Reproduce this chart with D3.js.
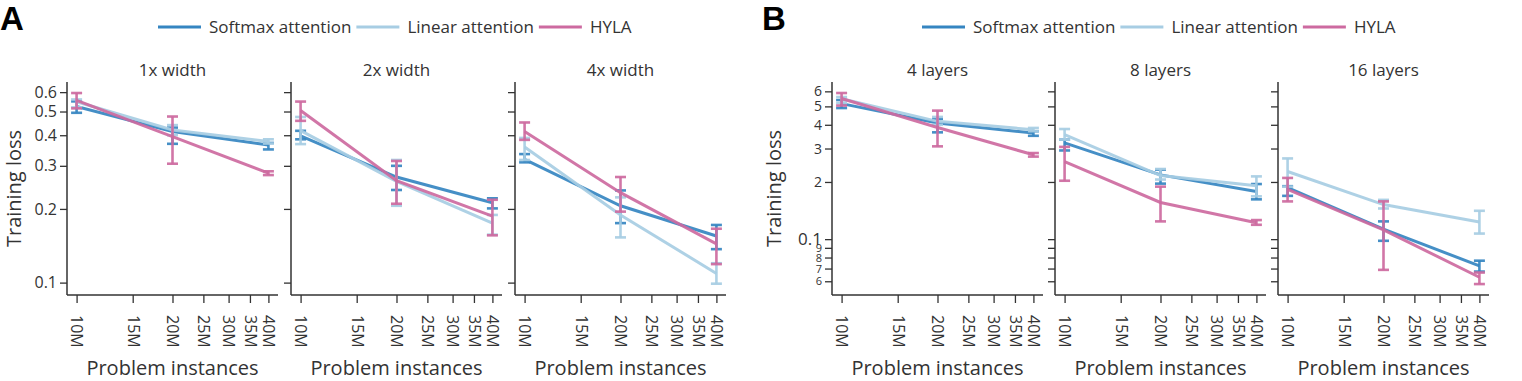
<!DOCTYPE html>
<html><head><meta charset="utf-8">
<script src="https://cdn.jsdelivr.net/npm/d3@7"></script>
<style>body{margin:0;background:#fff}svg{display:block}text{font-family:"Open Sans",sans-serif;fill:#333}</style>
</head><body><svg id="c" width="1522" height="381"></svg>
<script>
// ---------- data ----------
const xValues = [10e6, 20e6, 40e6];
const xTickValues = [10e6, 15e6, 20e6, 25e6, 30e6, 35e6, 40e6];
const xTickLabels = ["10M", "15M", "20M", "25M", "30M", "35M", "40M"];
const seriesNames = ["Softmax attention", "Linear attention", "HYLA"];
const seriesColors = ["#3585c1", "#a7cde3", "#cd6aa0"];

const panelATitles = ["1x width", "2x width", "4x width"];
const panelAYTicks = [0.1, 0.2, 0.3, 0.4, 0.5, 0.6];
const panelAYTickLabels = ["0.1", "0.2", "0.3", "0.4", "0.5", "0.6"];
// per subplot: [10M, 20M, 40M]
const A_softmax    = [[0.524, 0.414, 0.365], [0.398, 0.270, 0.212], [0.319, 0.206, 0.155]];
const A_softmax_lo = [[0.494, 0.369, 0.350], [0.385, 0.239, 0.201], [0.310, 0.175, 0.137]];
const A_softmax_hi = [[0.550, 0.430, 0.372], [0.417, 0.300, 0.221], [0.335, 0.238, 0.172]];
const A_linear     = [[0.548, 0.420, 0.377], [0.418, 0.259, 0.175], [0.358, 0.189, 0.109]];
const A_linear_lo  = [[0.520, 0.400, 0.370], [0.368, 0.206, 0.157], [0.317, 0.153, 0.099]];
const A_linear_hi  = [[0.560, 0.440, 0.385], [0.475, 0.317, 0.189], [0.390, 0.223, 0.120]];
const A_hyla       = [[0.555, 0.395, 0.280], [0.505, 0.261, 0.187], [0.414, 0.233, 0.144]];
const A_hyla_lo    = [[0.515, 0.306, 0.275], [0.458, 0.210, 0.156], [0.383, 0.195, 0.119]];
const A_hyla_hi    = [[0.595, 0.477, 0.285], [0.549, 0.314, 0.218], [0.451, 0.270, 0.166]];

const panelBTitles = ["4 layers", "8 layers", "16 layers"];
const panelBYTicks = [0.06, 0.07, 0.08, 0.09, 0.1, 0.2, 0.3, 0.4, 0.5, 0.6];
const panelBYTickLabels = ["6", "7", "8", "9", "0.1", "2", "3", "4", "5", "6"];
const B_softmax    = [[0.517, 0.409, 0.362], [0.321, 0.218, 0.178], [0.187, 0.113, 0.0723]];
const B_softmax_lo = [[0.490, 0.365, 0.350], [0.293, 0.196, 0.162], [0.169, 0.098, 0.0675]];
const B_softmax_hi = [[0.540, 0.430, 0.370], [0.334, 0.232, 0.195], [0.190, 0.124, 0.0770]];
const B_linear     = [[0.549, 0.417, 0.377], [0.355, 0.216, 0.191], [0.227, 0.152, 0.123]];
const B_linear_lo  = [[0.520, 0.400, 0.370], [0.334, 0.206, 0.168], [0.189, 0.145, 0.107]];
const B_linear_hi  = [[0.560, 0.440, 0.385], [0.380, 0.234, 0.214], [0.266, 0.161, 0.141]];
const B_hyla       = [[0.550, 0.387, 0.278], [0.256, 0.156, 0.122], [0.183, 0.112, 0.0630]];
const B_hyla_lo    = [[0.505, 0.308, 0.272], [0.203, 0.124, 0.119], [0.158, 0.0689, 0.0580]];
const B_hyla_hi    = [[0.588, 0.475, 0.284], [0.306, 0.189, 0.126], [0.210, 0.158, 0.0667]];

// ---------- layout ----------
const svg = d3.select("#c");
const axTop = 82, axBottom = 295, axW = 211;
const ink = "#333";

function drawPanel(opt) {
  const g = svg.append("g");
  // panel letter
  g.append("text").attr("x", opt.letterX).attr("y", 30).text(opt.letter)
    .style("font-family", "'Liberation Sans', Arial, sans-serif").style("font-weight", "bold")
    .style("font-size", "33px").style("fill", "#000");
  // legend
  let lx = opt.legendX;
  seriesNames.forEach((name, i) => {
    g.append("line").attr("x1", lx).attr("x2", lx + 43).attr("y1", 27).attr("y2", 27)
      .attr("stroke", seriesColors[i]).attr("stroke-width", 3);
    const t = g.append("text").attr("x", lx + 51).attr("y", 27).attr("dy", "0.35em")
      .style("font-size", "17px").text(name);
    lx += 51 + t.node().getComputedTextLength() + 5;
  });
  // y label
  g.append("text").attr("transform", `translate(${opt.ylabX},${(axTop + axBottom) / 2}) rotate(-90)`)
    .attr("text-anchor", "middle").style("font-size", "20px").text("Training loss");

  const y = d3.scaleLog().domain(opt.yDomain).range([axBottom, axTop]);
  const lx0 = Math.log10(10e6), lx1 = Math.log10(40e6), pad = (lx1 - lx0) * 0.05;
  opt.lefts.forEach((left, k) => {
    const x = d3.scaleLog().domain([Math.pow(10, lx0 - pad), Math.pow(10, lx1 + pad)]).range([left, left + axW]);
    const sg = g.append("g");
    // title
    sg.append("text").attr("x", left + axW / 2).attr("y", 70).attr("dy", "0.35em")
      .attr("text-anchor", "middle").style("font-size", "17px").text(opt.titles[k]);
    // y axis
    const ya = sg.append("g").attr("transform", `translate(${left},0)`)
      .call(d3.axisLeft(y).tickValues(opt.yTicks).tickSize(7).tickPadding(3)
        .tickFormat((d, i) => k === 0 ? opt.yTickLabels[i] : ""));
    ya.select(".domain").attr("d", `M0,${axTop}V${axBottom}`);
    ya.selectAll("line").attr("stroke", ink).attr("stroke-width", 1.3);
    ya.selectAll(".domain").attr("stroke", ink).attr("stroke-width", 1.5);
    ya.selectAll("text").style("font-size", (d, i) => opt.yTickSizes ? opt.yTickSizes[i] : "16px")
      .style("fill", ink).style("font-family", '"Open Sans",sans-serif');
    // x axis
    const xa = sg.append("g").attr("transform", `translate(0,${axBottom})`)
      .call(d3.axisBottom(x).tickValues(xTickValues).tickSize(8)
        .tickFormat((d, i) => xTickLabels[i]));
    xa.select(".domain").attr("d", `M${left},0H${left + axW}`).attr("stroke", ink).attr("stroke-width", 1.5);
    xa.selectAll("line").attr("stroke", ink).attr("stroke-width", 1.3);
    xa.selectAll("text").attr("transform", "rotate(90)").attr("x", 20).attr("y", 0).attr("dy", "0.35em")
      .attr("text-anchor", "start").style("font-size", "16px").style("fill", ink)
      .style("font-family", '"Open Sans",sans-serif');
    sg.append("text").attr("x", left + axW / 2).attr("y", 375).attr("text-anchor", "middle")
      .style("font-size", "20px").text("Problem instances");
    // series
    opt.series.forEach((s, si) => {
      const col = seriesColors[si];
      const pts = xValues.map((xv, j) => ({ x: xv, m: s.m[k][j], lo: s.lo[k][j], hi: s.hi[k][j] }));
      sg.append("path").datum(pts)
        .attr("d", d3.line().x(d => x(d.x)).y(d => y(d.m)))
        .attr("fill", "none").attr("stroke", col).attr("stroke-width", 3).attr("stroke-opacity", 0.92);
      const eb = sg.append("g").attr("stroke", col).attr("stroke-width", 2.6).attr("stroke-opacity", 0.92);
      pts.forEach(d => {
        eb.append("line").attr("x1", x(d.x)).attr("x2", x(d.x)).attr("y1", y(d.lo)).attr("y2", y(d.hi));
        eb.append("line").attr("x1", x(d.x) - 5.5).attr("x2", x(d.x) + 5.5).attr("y1", y(d.lo)).attr("y2", y(d.lo));
        eb.append("line").attr("x1", x(d.x) - 5.5).attr("x2", x(d.x) + 5.5).attr("y1", y(d.hi)).attr("y2", y(d.hi));
      });
    });
  });
}

drawPanel({
  letter: "A", letterX: 0, legendX: 158, ylabX: 21,
  lefts: [67, 291, 515], titles: panelATitles,
  yDomain: [0.089, 0.66], yTicks: panelAYTicks, yTickLabels: panelAYTickLabels,
  series: [
    { m: A_softmax, lo: A_softmax_lo, hi: A_softmax_hi },
    { m: A_linear, lo: A_linear_lo, hi: A_linear_hi },
    { m: A_hyla, lo: A_hyla_lo, hi: A_hyla_hi }
  ]
});
drawPanel({
  letter: "B", letterX: 762, legendX: 922, ylabX: 781,
  lefts: [832, 1055, 1278], titles: panelBTitles,
  yDomain: [0.0508, 0.672], yTicks: panelBYTicks, yTickLabels: panelBYTickLabels,
  yTickSizes: ["11px", "11px", "11px", "11px", "17px", "14px", "14px", "14px", "14px", "14px"],
  series: [
    { m: B_softmax, lo: B_softmax_lo, hi: B_softmax_hi },
    { m: B_linear, lo: B_linear_lo, hi: B_linear_hi },
    { m: B_hyla, lo: B_hyla_lo, hi: B_hyla_hi }
  ]
});
</script></body></html>
